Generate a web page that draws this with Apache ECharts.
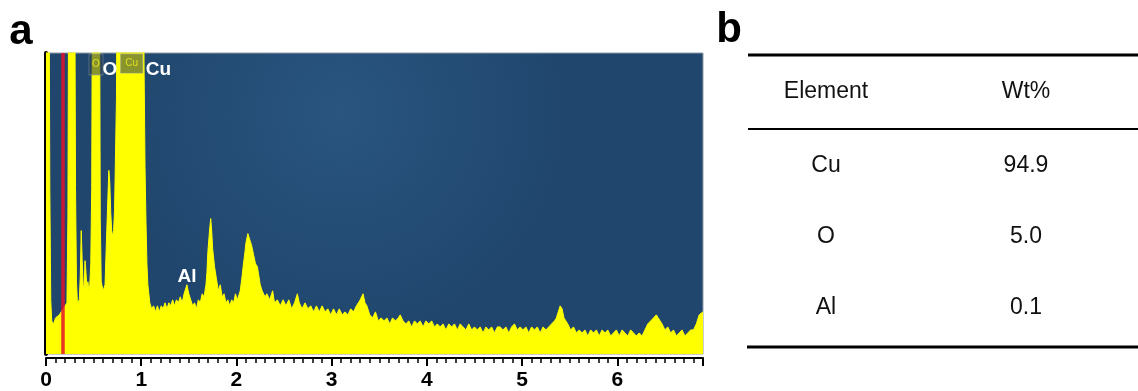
<!DOCTYPE html>
<html>
<head>
<meta charset="utf-8">
<script src="https://cdn.jsdelivr.net/npm/echarts@6/dist/echarts.min.js"></script>
<style>
  html, body { margin: 0; padding: 0; background: #fff; }
  #chart { width: 1138px; height: 391px; }
</style>
</head>
<body>
<div id="chart"></div>
<script>
// EDS spectrum (energy in keV, counts as % of plot height)
const energyKeV = [
  0.00, 0.03, 0.04, 0.05, 0.06, 0.08, 0.10, 0.12, 0.14, 0.16, 0.18, 0.20, 0.22, 0.23, 0.24,
  0.30, 0.31, 0.32, 0.33, 0.35, 0.36, 0.37, 0.38, 0.39, 0.40, 0.41, 0.42, 0.43, 0.44, 0.45,
  0.46, 0.47, 0.48, 0.49, 0.56, 0.57, 0.58, 0.60, 0.62, 0.63, 0.65, 0.66, 0.67, 0.68, 0.69,
  0.70, 0.71, 0.72, 0.74, 0.75, 1.02, 1.03, 1.04, 1.05, 1.06, 1.07, 1.09, 1.11, 1.13, 1.15,
  1.17, 1.19, 1.21, 1.23, 1.25, 1.27, 1.29, 1.31, 1.33, 1.35, 1.37, 1.39, 1.41, 1.43, 1.45,
  1.47, 1.48, 1.50, 1.52, 1.54, 1.56, 1.58, 1.60, 1.62, 1.64, 1.66, 1.68, 1.69, 1.70, 1.72,
  1.73, 1.74, 1.75, 1.77, 1.79, 1.81, 1.83, 1.85, 1.87, 1.89, 1.91, 1.93, 1.95, 1.97, 1.99,
  2.01, 2.03, 2.04, 2.06, 2.07, 2.09, 2.10, 2.12, 2.14, 2.16, 2.18, 2.20, 2.22, 2.23, 2.25,
  2.27, 2.30, 2.32, 2.35, 2.38, 2.40, 2.43, 2.46, 2.49, 2.52, 2.55, 2.58, 2.61, 2.64, 2.66,
  2.69, 2.72, 2.75, 2.78, 2.81, 2.84, 2.87, 2.90, 2.93, 2.96, 2.99, 3.02, 3.05, 3.08, 3.11,
  3.14, 3.17, 3.20, 3.23, 3.26, 3.28, 3.30, 3.33, 3.35, 3.37, 3.40, 3.43, 3.46, 3.49, 3.52,
  3.55, 3.58, 3.61, 3.64, 3.67, 3.70, 3.72, 3.75, 3.78, 3.81, 3.84, 3.87, 3.90, 3.93, 3.96,
  3.99, 4.02, 4.05, 4.08, 4.11, 4.14, 4.17, 4.20, 4.23, 4.26, 4.29, 4.32, 4.35, 4.38, 4.41,
  4.44, 4.47, 4.50, 4.53, 4.56, 4.59, 4.62, 4.65, 4.68, 4.71, 4.74, 4.77, 4.80, 4.83, 4.86,
  4.89, 4.92, 4.95, 4.98, 5.01, 5.04, 5.07, 5.10, 5.13, 5.16, 5.19, 5.22, 5.25, 5.28, 5.31,
  5.34, 5.36, 5.38, 5.40, 5.42, 5.44, 5.46, 5.48, 5.51, 5.54, 5.57, 5.60, 5.63, 5.66, 5.69,
  5.72, 5.75, 5.78, 5.81, 5.84, 5.87, 5.90, 5.93, 5.96, 5.99, 6.02, 6.05, 6.08, 6.11, 6.14,
  6.17, 6.20, 6.23, 6.26, 6.29, 6.32, 6.35, 6.38, 6.41, 6.43, 6.45, 6.47, 6.50, 6.53, 6.56,
  6.59, 6.62, 6.65, 6.68, 6.71, 6.74, 6.77, 6.80, 6.83, 6.86, 6.90
];
const counts = [
  150, 150, 55, 18, 11, 10, 12, 12, 13, 14, 15, 15, 17, 45, 150,
  150, 55, 24, 17, 18, 26, 41, 31, 23, 22, 31, 27, 22, 24, 21,
  23, 30, 55, 150, 150, 45, 24, 21, 23, 33, 52, 61, 57, 47, 41,
  39, 41, 48, 85, 150, 150, 95, 62, 44, 30, 23, 17, 15, 16, 14,
  16, 14, 16, 15, 17, 15, 17, 16, 18, 16, 18, 17, 19, 17, 20,
  22, 23, 20, 18, 16, 17, 15, 18, 17, 20, 19, 23, 27, 34, 42,
  45, 41, 35, 29, 25, 21, 23, 19, 20, 17, 18, 16, 18, 17, 20,
  18, 20, 21, 26, 29, 34, 37, 40, 38, 36, 33, 30, 29, 27, 23,
  21, 19, 20, 18, 21, 17, 18, 16, 18, 16, 18, 15, 17, 20, 17,
  15, 17, 15, 16, 14, 16, 14, 16, 14, 15, 13, 15, 13, 15, 13,
  14, 13, 15, 14, 16, 17, 18, 20, 17, 16, 13, 12, 14, 11, 12,
  11, 12, 10, 12, 11, 12, 13, 11, 10, 11, 9, 11, 10, 11, 9,
  11, 10, 11, 9, 10, 9, 10, 8, 10, 9, 10, 8, 10, 9, 8,
  10, 8, 9, 8, 9, 7, 9, 8, 9, 7, 9, 9, 8, 9, 7,
  9, 10, 8, 9, 8, 9, 7, 9, 8, 9, 7, 9, 8, 9, 10,
  11, 12, 14, 16, 15, 12, 11, 10, 8, 9, 7, 8, 7, 8, 6,
  8, 7, 8, 6, 8, 7, 8, 6, 7, 8, 6, 8, 7, 6, 8,
  7, 6, 7, 6, 8, 10, 11, 12, 13, 12, 11, 10, 8, 9, 7,
  8, 6, 7, 8, 6, 7, 8, 8, 10, 13, 14
];

// peak annotations
const peakNames = ['O', 'Cu', 'Al'];
const peakNameEnergy = [0.67, 1.18, 1.48];
const peakNameHeight = [94.4, 94.4, 25.6];
// small line-marker boxes
const markerNames = ['O', 'Cu'];
const markerEnergy = [0.525, 0.90];
const markerHeight = [96.2, 96.5];
const cursorEnergy = 0.18;

// panel b table
const tableHeader = ['Element', 'Wt%'];
const tableElements = ['Cu', 'O', 'Al'];
const tableWt = ['94.9', '5.0', '0.1'];

const chart = echarts.init(document.getElementById('chart'));

const FONT = "'Liberation Sans', Arial, sans-serif";
const colX = [826, 1026];
const rowY = [166, 237, 308];

const tableGraphics = [];
tableGraphics.push(
  { type: 'line', shape: { x1: 748, y1: 55, x2: 1138, y2: 55 }, style: { stroke: '#000', lineWidth: 3 } },
  { type: 'line', shape: { x1: 748, y1: 129, x2: 1138, y2: 129 }, style: { stroke: '#000', lineWidth: 2 } },
  { type: 'line', shape: { x1: 747, y1: 347, x2: 1138, y2: 347 }, style: { stroke: '#000', lineWidth: 3 } }
);
tableHeader.forEach((h, i) => {
  tableGraphics.push({ type: 'text', style: { text: h, x: colX[i], y: 92, fill: '#111', font: '23px ' + FONT, align: 'center', verticalAlign: 'middle' } });
});
tableElements.forEach((el, i) => {
  tableGraphics.push({ type: 'text', style: { text: el, x: colX[0], y: rowY[i], fill: '#111', font: '23px ' + FONT, align: 'center', verticalAlign: 'middle' } });
  tableGraphics.push({ type: 'text', style: { text: tableWt[i], x: colX[1], y: rowY[i], fill: '#111', font: '23px ' + FONT, align: 'center', verticalAlign: 'middle' } });
});
tableGraphics.push(
  { type: 'text', style: { text: 'a', x: 21, y: 32, fill: '#000', font: 'bold 42px ' + FONT, align: 'center', verticalAlign: 'middle' } },
  { type: 'text', style: { text: 'b', x: 729, y: 30, fill: '#000', font: 'bold 42px ' + FONT, align: 'center', verticalAlign: 'middle' } }
);

chart.setOption({
  animation: false,
  backgroundColor: '#fff',
  grid: {
    left: 46, right: 435, top: 53, bottom: 37,
    show: true,
    borderColor: '#8f9aa6',
    borderWidth: 1,
    backgroundColor: new echarts.graphic.RadialGradient(0.45, 0.2, 0.75, [
      { offset: 0, color: '#29557f' },
      { offset: 1, color: '#20466d' }
    ])
  },
  xAxis: {
    type: 'value',
    min: 0, max: 6.9, interval: 1,
    offset: 4,
    axisLine: { onZero: false, lineStyle: { color: '#000', width: 2 } },
    axisTick: { inside: false, length: 8, lineStyle: { color: '#000', width: 2 } },
    minorTick: { show: true, splitNumber: 10, length: 5, lineStyle: { color: '#000', width: 1.5 } },
    axisLabel: { color: '#000', fontWeight: 'bold', fontSize: 21, fontFamily: FONT, margin: 12, showMaxLabel: false },
    splitLine: { show: false }
  },
  yAxis: {
    type: 'value', min: 0, max: 100,
    offset: 2,
    axisLine: { show: true, lineStyle: { color: '#000', width: 4 } },
    axisTick: { show: false },
    axisLabel: { show: false },
    splitLine: { show: false }
  },
  series: [
    {
      name: 'spectrum',
      type: 'line',
      data: energyKeV.map((e, i) => [e, counts[i]]),
      showSymbol: false,
      clip: true,
      lineStyle: { color: '#ffff00', width: 1 },
      areaStyle: { color: '#ffff00', opacity: 1 },
      markLine: {
        silent: true,
        symbol: 'none',
        label: { show: false },
        lineStyle: { color: 'rgba(228,18,45,0.85)', width: 3.5, type: 'solid' },
        data: [{ xAxis: cursorEnergy }]
      },
      z: 2
    },
    {
      name: 'markers',
      type: 'scatter',
      symbol: 'rect',
      data: markerNames.map((n, i) => ({
        value: [markerEnergy[i], markerHeight[i]],
        symbolSize: n === 'O' ? [14, 21] : [22, 19]
      })),
      itemStyle: { color: 'rgba(40,60,80,0.55)', borderColor: 'rgba(140,150,160,0.6)', borderWidth: 1, opacity: 1 },
      label: {
        show: true, position: 'inside',
        formatter: p => markerNames[p.dataIndex],
        color: '#e0e020', fontSize: 10, fontFamily: FONT,
        textBorderWidth: 0
      },
      z: 3
    },
    {
      name: 'peaks',
      type: 'scatter',
      symbolSize: 0,
      itemStyle: { color: 'transparent', opacity: 1 },
      data: peakNames.map((n, i) => [peakNameEnergy[i], peakNameHeight[i]]),
      label: {
        show: true, position: 'inside',
        formatter: p => peakNames[p.dataIndex],
        color: '#ffffff', fontWeight: 'bold', fontSize: 19, fontFamily: FONT,
        textBorderWidth: 0
      },
      z: 4
    }
  ],
  graphic: tableGraphics
});
</script>
</body>
</html>
